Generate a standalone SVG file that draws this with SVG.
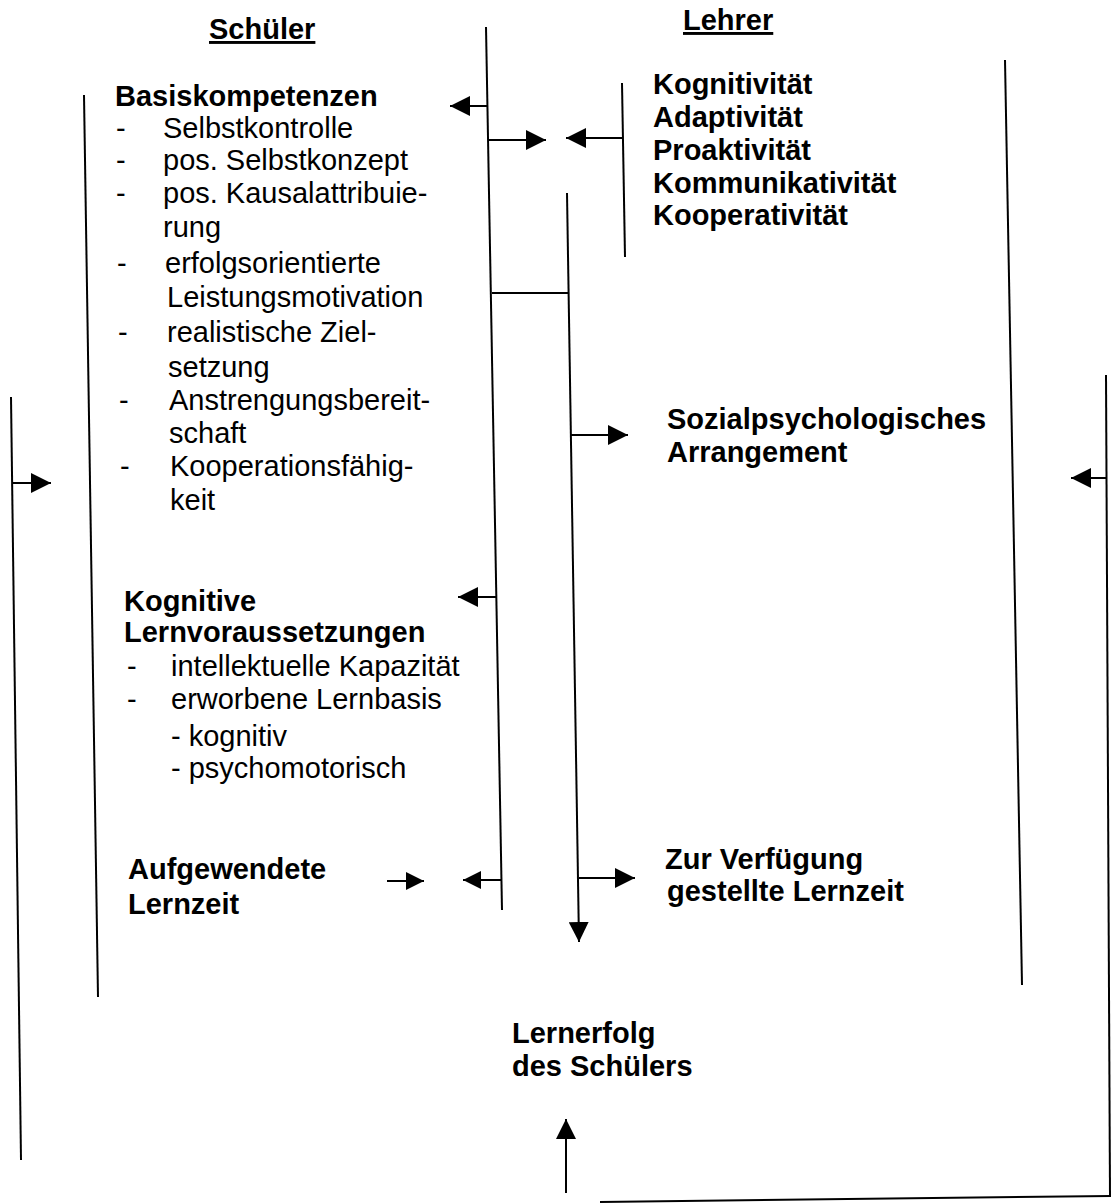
<svg xmlns="http://www.w3.org/2000/svg" width="1111" height="1203" viewBox="0 0 1111 1203">
<style>
text{font-family:"Liberation Sans",Arial,sans-serif;font-size:29px;fill:#000}
.b{font-weight:bold}
.u{text-decoration:underline}
line,polyline{stroke:#000;stroke-width:2;fill:none}
</style>
<defs>
<marker id="ah" markerUnits="userSpaceOnUse" markerWidth="20" markerHeight="20" refX="20" refY="10" orient="auto">
<path d="M0,0 L20,10 L0,20 z" fill="#000"/>
</marker>
<marker id="ahs" markerUnits="userSpaceOnUse" markerWidth="18" markerHeight="18" refX="18" refY="9" orient="auto">
<path d="M0,0 L18,9 L0,18 z" fill="#000"/>
</marker>
</defs>
<rect width="1111" height="1203" fill="#fff"/>

<g id="connectors">
<line x1="11" y1="397" x2="21" y2="1160"/>
<line x1="84" y1="95" x2="98" y2="997"/>
<line x1="486" y1="27" x2="502" y2="910"/>
<line x1="622" y1="83" x2="625" y2="257"/>
<line x1="1005" y1="60" x2="1022" y2="985"/>
<line x1="1106" y1="375" x2="1110" y2="1196"/>
<line x1="600" y1="1202" x2="1111" y2="1196"/>
<line x1="567" y1="193" x2="579" y2="942" marker-end="url(#ah)"/>
<line x1="492" y1="293" x2="568" y2="293"/>
<line x1="12" y1="483" x2="51" y2="483" marker-end="url(#ah)"/>
<line x1="1107" y1="478" x2="1071" y2="478" marker-end="url(#ah)"/>
<line x1="487" y1="106" x2="450" y2="106" marker-end="url(#ah)"/>
<line x1="488" y1="140" x2="546" y2="140" marker-end="url(#ah)"/>
<line x1="623" y1="138" x2="566" y2="138" marker-end="url(#ah)"/>
<line x1="571" y1="435" x2="628" y2="435" marker-end="url(#ah)"/>
<line x1="496" y1="597" x2="458" y2="597" marker-end="url(#ah)"/>
<line x1="387" y1="881" x2="424" y2="881" marker-end="url(#ahs)"/>
<line x1="502" y1="880" x2="463" y2="880" marker-end="url(#ahs)"/>
<line x1="579" y1="878" x2="635" y2="878" marker-end="url(#ah)"/>
<line x1="566" y1="1193" x2="566" y2="1119" marker-end="url(#ah)"/>
</g>

<g id="header-schueler"><text class="b u" x="209" y="39">Schüler</text></g>
<g id="header-lehrer"><text class="b u" x="683" y="30">Lehrer</text></g>

<g id="basiskompetenzen">
<text class="b" x="115" y="106">Basiskompetenzen</text>
<text x="116" y="138">-</text><text x="163" y="138">Selbstkontrolle</text>
<text x="116" y="170">-</text><text x="163" y="170">pos. Selbstkonzept</text>
<text x="116" y="203">-</text><text x="163" y="203">pos. Kausalattribuie-</text>
<text x="163" y="237">rung</text>
<text x="117" y="273">-</text><text x="165" y="273">erfolgsorientierte</text>
<text x="167" y="307">Leistungsmotivation</text>
<text x="118" y="342">-</text><text x="167" y="342">realistische Ziel-</text>
<text x="168" y="377">setzung</text>
<text x="119" y="410">-</text><text x="169" y="410">Anstrengungsbereit-</text>
<text x="169" y="443">schaft</text>
<text x="120" y="476">-</text><text x="170" y="476">Kooperationsfähig-</text>
<text x="170" y="510">keit</text>
</g>

<g id="kognitive">
<text class="b" x="124" y="611">Kognitive</text>
<text class="b" x="124" y="642">Lernvoraussetzungen</text>
<text x="127" y="676">-</text><text x="171" y="676">intellektuelle Kapazität</text>
<text x="127" y="709">-</text><text x="171" y="709">erworbene Lernbasis</text>
<text x="171" y="746">- kognitiv</text>
<text x="171" y="778">- psychomotorisch</text>
</g>

<g id="aufgewendete">
<text class="b" x="128" y="879">Aufgewendete</text>
<text class="b" x="128" y="914">Lernzeit</text>
</g>

<g id="lehrer-merkmale">
<text class="b" x="653" y="94">Kognitivität</text>
<text class="b" x="653" y="127">Adaptivität</text>
<text class="b" x="653" y="160">Proaktivität</text>
<text class="b" x="653" y="193">Kommunikativität</text>
<text class="b" x="653" y="225">Kooperativität</text>
</g>

<g id="sozial">
<text class="b" x="667" y="429">Sozialpsychologisches</text>
<text class="b" x="667" y="462">Arrangement</text>
</g>

<g id="verfuegung">
<text class="b" x="665" y="869">Zur Verfügung</text>
<text class="b" x="667" y="901">gestellte Lernzeit</text>
</g>

<g id="lernerfolg">
<text class="b" x="512" y="1043">Lernerfolg</text>
<text class="b" x="512" y="1076">des Schülers</text>
</g>
</svg>
